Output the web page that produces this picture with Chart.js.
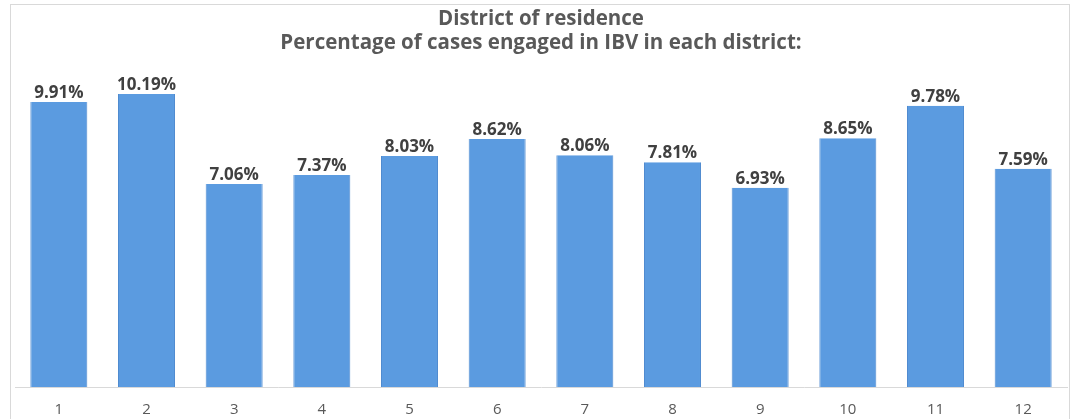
<!DOCTYPE html>
<html>
<head>
<meta charset="utf-8">
<script src="https://cdn.jsdelivr.net/npm/chart.js@4/dist/chart.umd.min.js"></script>
<style>
    html, body { margin: 0; padding: 0; background: #fff; }
    #wrap { position: relative; width: 1075px; height: 419px; }
    #frame { position: absolute; left: 10px; top: 4px; width: 1060px; height: 420px; border: 1px solid #d9d9d9; box-sizing: border-box; }
</style>
</head>
<body>
<div id="wrap">
    <div id="frame"></div>
    <canvas id="districtChart" width="1075" height="419"></canvas>
</div>
<script>
const districts = ['1', '2', '3', '4', '5', '6', '7', '8', '9', '10', '11', '12'];
const percentages = [9.91, 10.19, 7.06, 7.37, 8.03, 8.62, 8.06, 7.81, 6.93, 8.65, 9.78, 7.59];
const titleLines = ['District of residence', 'Percentage of cases engaged in IBV in each district:'];

// value labels above each bar
const barLabels = {
    id: 'barLabels',
    afterDatasetsDraw(chart) {
        const ctx = chart.ctx;
        const meta = chart.getDatasetMeta(0);
        ctx.save();
        ctx.font = 'bold 17px "Open Sans", sans-serif';
        ctx.fillStyle = '#404040';
        ctx.textAlign = 'center';
        ctx.textBaseline = 'alphabetic';
        meta.data.forEach((bar, i) => {
            ctx.fillText(percentages[i].toFixed(2) + '%', bar.x, bar.y - 4);
        });
        ctx.restore();
    }
};

const ctx = document.getElementById('districtChart').getContext('2d');
new Chart(ctx, {
    type: 'bar',
    data: {
        labels: districts,
        datasets: [{
            data: percentages,
            backgroundColor: '#5b9be0',
            borderColor: '#4f8bd0',
            borderWidth: { top: 0, left: 1, right: 1, bottom: 0 },
            categoryPercentage: 0.65,
            barPercentage: 1.0
        }]
    },
    options: {
        responsive: false,
        animation: false,
        layout: { padding: { left: 15, right: 8, top: 0, bottom: -14 } },
        plugins: {
            legend: { display: false },
            tooltip: { enabled: false },
            title: {
                display: true,
                text: titleLines,
                color: '#595959',
                font: { family: '"Open Sans", sans-serif', size: 20.5, weight: 'bold', lineHeight: 1.17 },
                padding: { top: 7, bottom: 7 }
            }
        },
        scales: {
            x: {
                grid: { display: false, drawTicks: false },
                border: { display: true, color: '#d9d9d9', width: 1 },
                ticks: { color: '#595959', font: { family: '"Open Sans", sans-serif', size: 15 }, padding: 14 }
            },
            y: {
                display: false,
                min: 0,
                max: 11.3
            }
        }
    },
    plugins: [barLabels]
});
</script>
</body>
</html>
